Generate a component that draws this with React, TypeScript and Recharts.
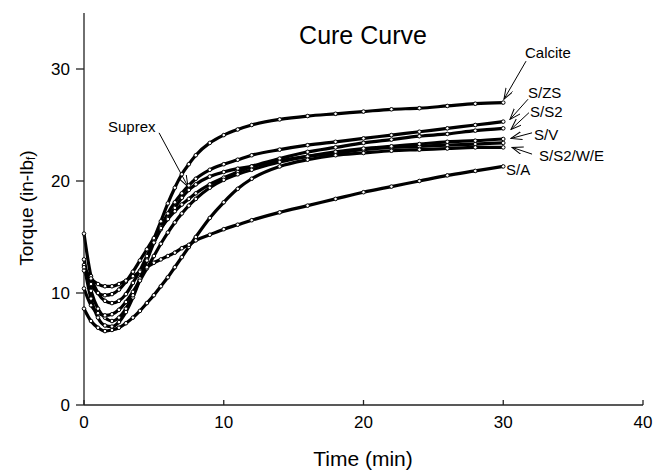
import React from "react";
import {
  LineChart,
  Line,
  XAxis,
  YAxis,
  ReferenceLine,
} from "recharts";

const times = [0, 0.5, 1, 1.5, 2, 2.5, 3, 3.5, 4, 4.5, 5, 5.5, 6, 6.5, 7, 7.5, 8, 9, 10, 11, 12, 14, 16, 18, 20, 22, 24, 26, 28, 30];

const calcite = [12.5, 9.5, 7.8, 7.1, 7.0, 7.4, 8.3, 9.6, 11.2, 13.0, 14.8, 16.4, 18.0, 19.4, 20.6, 21.5, 22.3, 23.4, 24.1, 24.6, 25.0, 25.5, 25.8, 26.0, 26.2, 26.4, 26.5, 26.7, 26.9, 27.0];
const suprex = [15.3, 11.5, 10.0, 9.3, 9.1, 9.3, 9.9, 10.9, 12.0, 13.3, 14.5, 15.7, 16.7, 17.6, 18.5, 19.2, 19.7, 20.4, 20.8, 21.1, 21.3, 21.8, 22.2, 22.5, 22.8, 23.0, 23.1, 23.2, 23.3, 23.4];
const sZS = [13.0, 10.2, 8.6, 7.8, 7.5, 7.8, 8.6, 9.8, 11.3, 12.9, 14.5, 15.9, 17.1, 18.1, 18.9, 19.6, 20.2, 21.0, 21.5, 21.9, 22.3, 22.8, 23.2, 23.5, 23.8, 24.1, 24.4, 24.7, 25.0, 25.3];
const sS2 = [12.0, 10.8, 10.0, 9.8, 9.9, 10.3, 11.0, 11.9, 12.9, 13.9, 14.9, 15.8, 16.6, 17.3, 17.9, 18.4, 18.9, 19.7, 20.3, 20.8, 21.3, 22.0, 22.6, 23.0, 23.4, 23.7, 24.0, 24.2, 24.5, 24.7];
const sV = [10.4, 8.9, 8.2, 8.0, 8.1, 8.5, 9.2, 10.1, 11.1, 12.2, 13.3, 14.4, 15.4, 16.3, 17.1, 17.8, 18.4, 19.4, 20.1, 20.6, 21.0, 21.7, 22.2, 22.6, 22.9, 23.1, 23.3, 23.5, 23.6, 23.75];
const sS2WE = [8.6, 7.5, 6.9, 6.6, 6.7, 6.9, 7.3, 7.8, 8.4, 9.1, 9.8, 10.6, 11.4, 12.3, 13.2, 14.1, 15.0, 16.7, 18.1, 19.3, 20.2, 21.3, 21.9, 22.3, 22.5, 22.7, 22.8, 22.9, 23.0, 23.0];
const sA = [12.3, 11.3, 10.8, 10.6, 10.6, 10.8, 11.1, 11.5, 11.9, 12.3, 12.7, 13.0, 13.3, 13.6, 14.0, 14.3, 14.7, 15.2, 15.7, 16.1, 16.5, 17.2, 17.8, 18.4, 19.0, 19.5, 20.0, 20.5, 20.9, 21.3];

const xTicks = [0, 10, 20, 30, 40];
const yTicks = [0, 10, 20, 30];

const series = [
  { key: "calcite", values: calcite },
  { key: "suprex", values: suprex },
  { key: "sZS", values: sZS },
  { key: "sS2", values: sS2 },
  { key: "sV", values: sV },
  { key: "sS2WE", values: sS2WE },
  { key: "sA", values: sA },
];

// arrows: [from, to] in data units
const arrows = [
  [{ x: 31.63, y: 30.7 }, { x: 30.05, y: 27.3 }],
  [{ x: 31.77, y: 27.3 }, { x: 30.48, y: 25.5 }],
  [{ x: 31.84, y: 26.1 }, { x: 30.55, y: 24.6 }],
  [{ x: 32.06, y: 24.3 }, { x: 30.55, y: 23.8 }],
  [{ x: 32.06, y: 22.4 }, { x: 30.63, y: 23.0 }],
  [{ x: 5.37, y: 24.3 }, { x: 7.44, y: 19.5 }],
];

const data = times.map((t, i) => {
  const row: any = { t };
  series.forEach((s) => (row[s.key] = s.values[i]));
  return row;
});

const font = "'Liberation Sans', Arial, sans-serif";

export default function App() {
  return (
    <div style={{ fontFamily: font }}>
      <style>{`body{margin:0}`}</style>
      <LineChart
        width={653}
        height={471}
        data={data}
        margin={{ top: 13, right: 10, bottom: 0, left: 24 }}
      >
        <defs>
          <marker
            id="arrow"
            markerWidth="12"
            markerHeight="10"
            refX="11"
            refY="4"
            orient="auto"
            markerUnits="userSpaceOnUse"
          >
            <path d="M0,0 L11,4 L0,8" fill="none" stroke="#000" strokeWidth="1" />
          </marker>
        </defs>
        <XAxis
          type="number"
          dataKey="t"
          domain={[0, 40]}
          ticks={xTicks}
          height={66}
          tickSize={-5}
          tickMargin={16}
          stroke="#222"
          strokeWidth={1.3}
          tick={{ fontSize: 17, fill: "#000", fontFamily: font }}
        />
        <XAxis
          xAxisId="top"
          orientation="top"
          type="number"
          domain={[0, 40]}
          ticks={[10, 20, 30]}
          height={0}
          tick={false}
          tickSize={-5}
          stroke="#222"
          strokeWidth={1.3}
        />
        <YAxis
          type="number"
          domain={[0, 35]}
          ticks={yTicks}
          width={60}
          tickSize={8}
          tickMargin={6}
          stroke="#222"
          strokeWidth={1.3}
          tick={{ fontSize: 17, fill: "#000", fontFamily: font }}
        />
        <YAxis
          yAxisId="r"
          orientation="right"
          type="number"
          domain={[0, 35]}
          ticks={[10, 20, 30]}
          width={0}
          tick={false}
          tickSize={-5}
          stroke="#222"
          strokeWidth={1.3}
        />
        {series.map((s) => (
          <Line
            key={s.key}
            dataKey={s.key}
            type="monotone"
            stroke="#000"
            strokeWidth={3.2}
            dot={{ r: 1.8, fill: "#fff", stroke: "#000", strokeWidth: 1 }}
            isAnimationActive={false}
          />
        ))}
        {arrows.map((a, i) => (
          <ReferenceLine
            key={i}
            segment={a}
            stroke="#000"
            strokeWidth={1}
            markerEnd="url(#arrow)"
            ifOverflow="visible"
          />
        ))}
        <text x={363} y={35} textAnchor="middle" dominantBaseline="central" fontSize={25} fontFamily={font}>
          Cure Curve
        </text>
        <text x={525} y={52} dominantBaseline="central" fontSize={15} fontFamily={font}>Calcite</text>
        <text x={528} y={92} dominantBaseline="central" fontSize={15} fontFamily={font}>S/ZS</text>
        <text x={530} y={111} dominantBaseline="central" fontSize={15} fontFamily={font}>S/S2</text>
        <text x={534} y={134} dominantBaseline="central" fontSize={15} fontFamily={font}>S/V</text>
        <text x={539} y={155} dominantBaseline="central" fontSize={15} fontFamily={font}>S/S2/W/E</text>
        <text x={506} y={169} dominantBaseline="central" fontSize={15} fontFamily={font}>S/A</text>
        <text x={108} y={126} dominantBaseline="central" fontSize={15} fontFamily={font}>Suprex</text>
        <text x={363} y={458} textAnchor="middle" dominantBaseline="central" fontSize={21} fontFamily={font}>
          Time (min)
        </text>
        <text
          x={26}
          y={208}
          textAnchor="middle"
          dominantBaseline="central"
          fontSize={19}
          fontFamily={font}
          transform="rotate(-90 26 208)"
        >
          Torque (in-lb<tspan fontSize={12} dy={5}>f</tspan><tspan dy={-5}>)</tspan>
        </text>
      </LineChart>
    </div>
  );
}
